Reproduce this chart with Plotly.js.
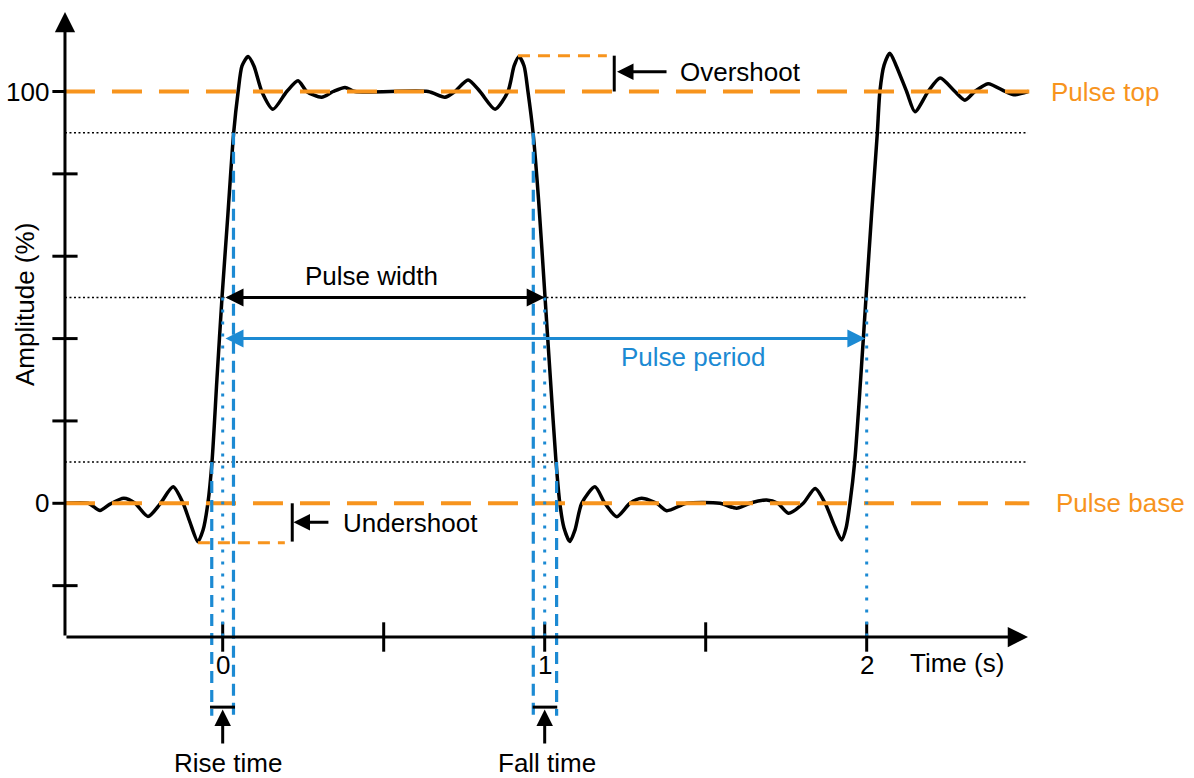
<!DOCTYPE html>
<html><head><meta charset="utf-8">
<script src="https://cdn.plot.ly/plotly-3.0.1.min.js"></script>
<style>html,body{margin:0;padding:0;background:#fff;}#chart{width:1194px;height:778px;}</style>
</head><body><div id="chart"></div>
<script>
// ---- data (time in s, amplitude in %) ----
const time = [-0.489,-0.418,-0.381,-0.350,-0.307,-0.272,-0.232,-0.195,-0.154,-0.123,-0.102,-0.077,-0.061,-0.046,-0.033,-0.018,-0.002,0.016,0.034,0.048,0.060,0.079,0.097,0.122,0.156,0.199,0.234,0.261,0.307,0.343,0.380,0.411,0.638,0.690,0.721,0.762,0.799,0.846,0.886,0.905,0.920,0.936,0.948,0.964,0.981,1.001,1.018,1.035,1.047,1.060,1.078,1.094,1.115,1.156,1.187,1.224,1.265,1.301,1.348,1.379,1.441,1.544,1.596,1.637,1.689,1.724,1.757,1.803,1.840,1.871,1.899,1.922,1.936,1.948,1.963,1.981,1.998,2.015,2.033,2.041,2.054,2.072,2.091,2.124,2.150,2.191,2.228,2.274,2.305,2.336,2.377,2.430,2.457,2.501];
const amplitude = [0,0,-1.75,-0.2,1.2,0,-3.2,-0.2,4.0,0,-4.5,-9.3,-6.5,0,10.3,30,50.1,70,89.9,100,106.2,108.5,106.2,99.9,95.7,100,102.6,100,98.6,100,101.0,100,100,98.6,100,102.8,100,95.7,100,106.2,108.5,106.2,100,89.9,73.7,50.1,29.9,10.3,0,-6,-9.3,-6.5,0,4.0,0,-3.25,0,1.2,0,-1.8,0,0,-1.2,0,0.8,0,-2.4,0,3.6,0,-5.3,-8.9,-6,0,10.3,29.9,50.1,70,89.9,100,106.4,109.3,106.4,100,95.1,100,103.3,100,97.9,100,101.9,100,99.2,100];

const pulseTop = 100;
const pulseBase = 0;
const refLevels = [10, 50, 90];
const overshootLevel = 108.7;
const undershootLevel = -9.6;
const riseTimes = [-0.034, 0.0, 0.0335];   // 10%, 50%, 90% crossings
const fallTimes = [1.037, 1.0, 0.9646];    // 10%, 50%, 90% crossings
const secondRise50 = 2.0;

const xTickVals = [0, 0.5, 1, 1.5, 2];
const xTickLabels = ['0', '', '1', '', '2'];
const yTickVals = [-20, 0, 20, 40, 60, 80, 100];
const yTickLabels = ['', '0', '', '', '', '', '100'];

// ---- axis frame ----
const xStart = -0.4898, xEnd = 2.501;
const yBottom = -32.47, yTop = 119.3;
const lowEnd = -51.6;   // bottom of rise/fall time guides

const ORANGE = '#F7941D';
const BLUE = '#1C8AD3';
const FONT = 'Liberation Sans, Arial, sans-serif';
const FS = 26;

const traces = [
  {x: time, y: amplitude, mode: 'lines', line: {color: '#000', width: 3.5, shape: 'spline', smoothing: 0.7}, hoverinfo: 'skip'},
  {x: xTickVals, y: xTickVals.map(() => yBottom), mode: 'markers',
   marker: {symbol: 'line-ns-open', size: 21, color: '#000', line: {color: '#000', width: 3}}, hoverinfo: 'skip'},
  {x: yTickVals.map(() => xStart), y: yTickVals, mode: 'markers',
   marker: {symbol: 'line-ew-open', size: 18, color: '#000', line: {color: '#000', width: 3}}, hoverinfo: 'skip'}
];

const shapes = [];
function seg(x0, y0, x1, y1, color, width, dash) {
  shapes.push({type: 'line', xref: 'x', yref: 'y', x0, y0, x1, y1, layer: 'above',
               line: {color, width, dash: dash || 'solid'}});
}
// reference dotted lines
refLevels.forEach(v => seg(xStart, v, xEnd, v, '#000', 1.5, '2px,2.5px'));
// pulse top/base
seg(xStart, pulseTop, 2.505, pulseTop, ORANGE, 4, '30px,17px');
seg(xStart, pulseBase, 2.505, pulseBase, ORANGE, 4, '30px,17px');
// overshoot / undershoot levels
seg(0.917, overshootLevel, 1.193, overshootLevel, ORANGE, 3, '12px,8px');
seg(-0.077, undershootLevel, 0.193, undershootLevel, ORANGE, 3, '12px,8px');
seg(1.216, pulseTop, 1.216, overshootLevel, '#000', 3);
seg(0.216, pulseBase, 0.216, -9.3, '#000', 3);
// rise / fall guides
seg(riseTimes[0], refLevels[0], riseTimes[0], lowEnd, BLUE, 3.2, '12px,7px');
seg(riseTimes[2], refLevels[2], riseTimes[2], lowEnd, BLUE, 3.2, '12px,7px');
seg(riseTimes[1], refLevels[1], riseTimes[1], yBottom, BLUE, 3, '3px,9px');
seg(fallTimes[2], refLevels[2], fallTimes[2], lowEnd, BLUE, 3.2, '12px,7px');
seg(fallTimes[0], refLevels[0], fallTimes[0], lowEnd, BLUE, 3.2, '12px,7px');
seg(fallTimes[1], refLevels[1], fallTimes[1], yBottom, BLUE, 3, '3px,9px');
seg(secondRise50, refLevels[1], secondRise50, yBottom, BLUE, 3, '3px,9px');
// rise/fall time bars
seg(-0.0394, -49.5, 0.0382, -49.5, '#000', 3);
seg(0.9627, -49.5, 1.039, -49.5, '#000', 3);

const ann = [];
function arrow(ax, ay, x, y, color, width, size, both) {
  ann.push({x, y, ax, ay, xref: 'x', yref: 'y', axref: 'x', ayref: 'y', text: '', showarrow: true,
            arrowhead: 2, arrowsize: size, arrowwidth: width, arrowcolor: color,
            arrowside: both ? 'end+start' : 'end', startarrowhead: 2, startarrowsize: size,
            standoff: 0, startstandoff: 0});
}
function label(text, x, y, xanchor, color, extra) {
  ann.push(Object.assign({x, y, xref: 'x', yref: 'y', text, showarrow: false, xanchor, yanchor: 'middle',
            font: {family: FONT, size: FS, color: color || '#000'}}, extra || {}));
}
// axes
arrow(xStart, yBottom, xEnd, yBottom, '#000', 3, 1.35, false);
arrow(xStart, yBottom, xStart, yTop, '#000', 3, 1.35, false);
// measurement arrows
arrow(0.004, 50, fallTimes[1], 50, '#000', 3, 1.2, true);
arrow(0.004, 40, secondRise50 - 0.004, 40, BLUE, 3, 1.2, true);
arrow(1.383, 104.8, 1.2246, 104.8, '#000', 3, 1.1, false);
arrow(0.333, -4.6, 0.2198, -4.6, '#000', 3, 1.1, false);
arrow(riseTimes[1], -58.7, riseTimes[1], -50.1, '#000', 3, 1.1, false);
arrow(fallTimes[1], -58.7, fallTimes[1], -50.1, '#000', 3, 1.1, false);

// tick labels
xTickVals.forEach((v, i) => { if (xTickLabels[i]) label(xTickLabels[i], v, yBottom, 'center', '#000', {yshift: -28}); });
yTickVals.forEach((v, i) => { if (yTickLabels[i]) label(yTickLabels[i], xStart, v, 'right', '#000', {xshift: -14}); });

// text labels
label('Pulse width', 0.462, 55.2, 'center');
label('Pulse period', 1.4606, 35.5, 'center', BLUE);
label('Overshoot', 1.414, 104.7, 'left');
label('Undershoot', 0.3665, -4.8, 'left');
label('Pulse top', 2.5662, 100, 'left', ORANGE);
label('Pulse base', 2.5817, 0, 'left', ORANGE);
label('Rise time', 0.0165, -63.1, 'center');
label('Fall time', 1.006, -63.1, 'center');
label('Time (s)', 2.128, -38.8, 'left');
label('Amplitude (%)', -0.614, 48.4, 'center', '#000', {textangle: -90});

const layout = {
  width: 1194, height: 778,
  margin: {l: 0, r: 0, t: 0, b: 0, pad: 0},
  paper_bgcolor: '#fff', plot_bgcolor: '#fff',
  showlegend: false,
  xaxis: {range: [-0.6916, 3.0165], visible: false, showgrid: false, zeroline: false, fixedrange: true},
  yaxis: {range: [-66.71, 122.22], visible: false, showgrid: false, zeroline: false, fixedrange: true},
  shapes: shapes,
  annotations: ann,
  font: {family: FONT, size: FS, color: '#000'}
};
Plotly.newPlot('chart', traces, layout, {displayModeBar: false, staticPlot: true});
</script>
</body></html>
